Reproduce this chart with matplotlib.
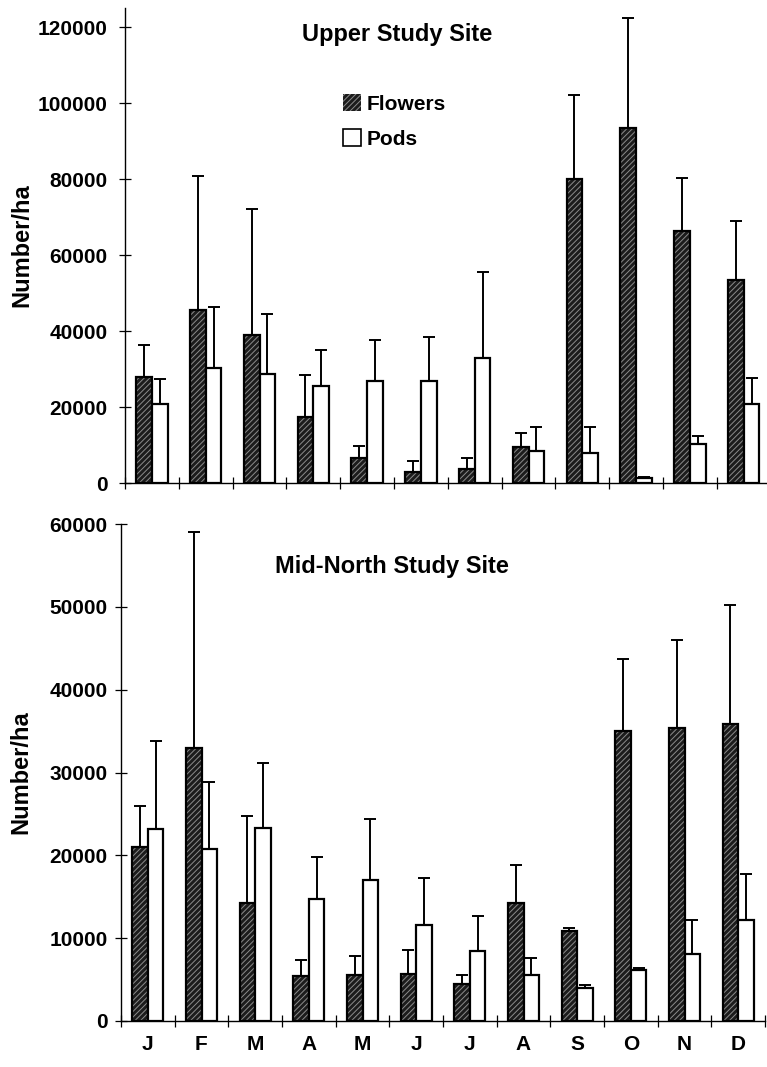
import matplotlib
matplotlib.use("Agg")
import matplotlib.pyplot as plt
import numpy as np
from matplotlib.patches import Patch

plt.rcParams['font.family'] = ['Liberation Sans', 'DejaVu Sans']
plt.rcParams['font.weight'] = 'bold'
plt.rcParams['hatch.linewidth'] = 0.7

months = ['J', 'F', 'M', 'A', 'M', 'J', 'J', 'A', 'S', 'O', 'N', 'D']

# Upper Study Site
upper_flowers = [28000, 45500, 39000, 17500, 6500, 3000, 3600, 9500, 80000, 93500, 66300, 53300]
upper_flowers_err = [8200, 35300, 33000, 11000, 3300, 2700, 2900, 3700, 22000, 29000, 13900, 15700]
upper_pods = [20700, 30200, 28700, 25400, 26800, 26800, 33000, 8300, 7800, 1300, 10200, 20800]
upper_pods_err = [6800, 16000, 15800, 9700, 10900, 11700, 22500, 6500, 6900, 300, 2100, 6800]

# Mid-North Study Site
mid_flowers = [21000, 33000, 14200, 5400, 5500, 5700, 4500, 14200, 10900, 35000, 35400, 35900]
mid_flowers_err = [5000, 26000, 10500, 2000, 2300, 2900, 1000, 4600, 300, 8700, 10600, 14300]
mid_pods = [23200, 20800, 23300, 14700, 17000, 11600, 8500, 5600, 4000, 6100, 8100, 12200]
mid_pods_err = [10600, 8100, 7900, 5100, 7400, 5700, 4200, 2000, 300, 300, 4100, 5500]

upper_yticks = [0, 20000, 40000, 60000, 80000, 100000, 120000]
mid_yticks = [0, 10000, 20000, 30000, 40000, 50000, 60000]

W, H = 767, 1067
fig = plt.figure(figsize=(W / 100, H / 100), dpi=100)

ax1 = fig.add_axes([125 / W, 1 - 483 / H, 642 / W, (483 - 8) / H])
ax2 = fig.add_axes([121 / W, 1 - 1021 / H, 644 / W, (1021 - 524) / H])

DARK = '#1c1c1c'
HATCHC = '#8c8c8c'
bw = 0.29


def draw(ax, flowers, ferr, pods, perr):
    x = np.arange(len(months))
    xf = x - bw / 2
    xp = x + bw / 2
    # flowers: dark fill with light hatch, then black outline
    ax.bar(xf, flowers, bw, color=DARK, edgecolor=HATCHC, hatch='//////', linewidth=0, zorder=2)
    ax.bar(xf, flowers, bw, fill=False, edgecolor='black', linewidth=1.6, zorder=3)
    ax.bar(xp, pods, bw, color='white', edgecolor='black', linewidth=1.6, zorder=3)
    ax.errorbar(xf, flowers, yerr=[np.zeros(len(ferr)), ferr], fmt='none', ecolor='black',
                elinewidth=1.4, capsize=4.5, capthick=1.4, zorder=1)
    ax.errorbar(xp, pods, yerr=[np.zeros(len(perr)), perr], fmt='none', ecolor='black',
                elinewidth=1.4, capsize=4.5, capthick=1.4, zorder=1)
    for s in ['top', 'right']:
        ax.spines[s].set_visible(False)
    ax.spines['left'].set_linewidth(1.0)
    ax.spines['bottom'].set_linewidth(1.0)
    ax.set_xticks(np.arange(-0.5, len(months), 1.0))
    ax.set_xticklabels([])
    ax.tick_params(axis='x', which='major', direction='inout', length=8, width=0.9)
    ax.tick_params(axis='y', direction='inout', length=9, width=0.9, labelsize=15)
    ax.set_ylabel('Number/ha', fontsize=17, fontweight='bold')


draw(ax1, upper_flowers, upper_flowers_err, upper_pods, upper_pods_err)
draw(ax2, mid_flowers, mid_flowers_err, mid_pods, mid_pods_err)

ax1.set_xlim(-0.5, -0.5 + 642 / 53.8)
ax1.set_ylim(0, 125000)
ax1.set_yticks(upper_yticks)
ax1.set_yticklabels([str(v) for v in upper_yticks], fontsize=15, fontweight='bold')
ax1.tick_params(axis='y', pad=8)

ax2.set_xlim(-0.5, 11.5)
ax2.set_ylim(0, 60000)
ax2.set_yticks(mid_yticks)
ax2.set_yticklabels([str(v) for v in mid_yticks], fontsize=15, fontweight='bold')
ax2.tick_params(axis='y', pad=5)
ax2.set_xticks(np.arange(len(months)), minor=True)
ax2.set_xticklabels(months, minor=True, fontsize=15, fontweight='bold')
ax2.tick_params(axis='x', which='minor', length=0, pad=10)

# y label: x coordinate is the right (bottom-of-text) edge for a rotated label
ax1.yaxis.set_label_coords(-(125 - 33) / 642, 0.5)
ax2.yaxis.set_label_coords(-(121 - 32) / 644, 0.5)

fig.text(397 / W, 1 - 35 / H, 'Upper Study Site', ha='center', va='center', fontsize=17, fontweight='bold')
fig.text(392 / W, 1 - 567 / H, 'Mid-North Study Site', ha='center', va='center', fontsize=17, fontweight='bold')

handles = [Patch(facecolor=DARK, edgecolor=HATCHC, hatch='//////', linewidth=0),
           Patch(facecolor='white', edgecolor='black', linewidth=1.2)]
fig.legend(handles, ['Flowers', 'Pods'], loc='upper left', bbox_to_anchor=(343 / W, 1 - 94 / H),
           frameon=False, handlelength=0.85, handleheight=0.85, handletextpad=0.3,
           labelspacing=0.75, borderpad=0, borderaxespad=0, prop={'weight': 'bold', 'size': 15})

fig.savefig('out.png', dpi=100)
